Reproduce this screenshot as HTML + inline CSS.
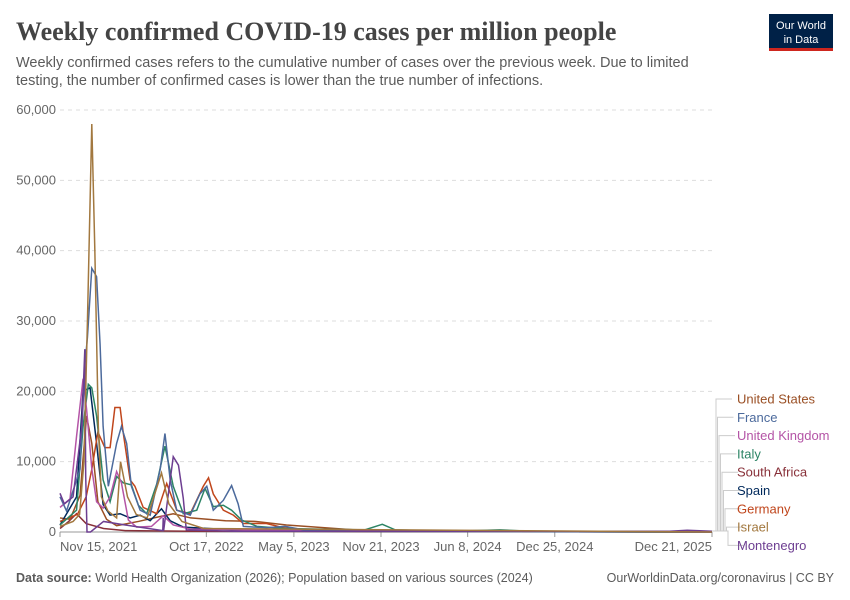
<!DOCTYPE html>
<html><head><meta charset="utf-8"><style>
body{margin:0;background:#fff;font-family:"Liberation Sans",sans-serif}
#wrap{position:relative;width:850px;height:600px;overflow:hidden}
</style></head><body>
<div id="wrap">
<svg id="svg" width="850" height="600" xmlns="http://www.w3.org/2000/svg">
<text x="16" y="40" font-family="Liberation Serif,serif" font-size="26" font-weight="bold" fill="#444">Weekly confirmed COVID-19 cases per million people</text>
<text x="16" y="67" font-size="14.5" fill="#5b5b5b">Weekly confirmed cases refers to the cumulative number of cases over the previous week. Due to limited</text>
<text x="16" y="85" font-size="14.5" fill="#5b5b5b">testing, the number of confirmed cases is lower than the true number of infections.</text>
<g>
<rect x="769" y="14" width="64" height="36" fill="#002147"/>
<rect x="769" y="48" width="64" height="3" fill="#ce261e"/>
<text x="801" y="29" font-size="11" fill="#fff" text-anchor="middle">Our World</text>
<text x="801" y="43" font-size="11" fill="#fff" text-anchor="middle">in Data</text>
</g>
<g id="grid"></g>
<g id="series"></g>
<g id="legend"></g>
<text x="16" y="582" font-size="12.5" fill="#5b5b5b"><tspan font-weight="bold">Data source:</tspan> World Health Organization (2026); Population based on various sources (2024)</text>
<text x="834" y="582" font-size="12.5" fill="#5b5b5b" text-anchor="end">OurWorldinData.org/coronavirus | CC BY</text>
</svg>
</div>
<script>
const yTicks=[0,10000,20000,30000,40000,50000,60000];
const xTickDays=[0,336,537,737,936,1136,1497];
const xTickLabels=["Nov 15, 2021","Oct 17, 2022","May 5, 2023","Nov 21, 2023","Jun 8, 2024","Dec 25, 2024","Dec 21, 2025"];
const names=["United States","France","United Kingdom","Italy","South Africa","Spain","Germany","Israel","Montenegro"];
const colors=["#9a4f24","#4c6a9c","#b454a6","#2c8465","#883039","#00295b","#c0461c","#a2783f","#6d3e91"];
const usDays=[0,23,46,61,73,87,107,130,180,230,260,300,380,450,520,700,1000,1497];
const usVals=[2000,1800,5200,16500,12600,4300,1800,900,1500,2200,2600,2000,1600,1500,1000,200,100,50];
const frDays=[0,15,46,57,63,73,84,92,99,111,130,141,153,164,184,207,230,241,253,268,299,321,337,352,375,394,409,421,474,517,560,700,1000,1497];
const frVals=[5000,3000,8900,23600,27700,37500,36300,26700,15000,6500,12600,15000,12600,6500,3100,2400,8900,14000,7400,3100,2400,5400,6500,3100,4500,6600,4000,800,600,800,300,100,50,0];
const ukDays=[0,23,38,53,61,73,84,99,115,130,141,157,176,210,237,260,300,450,1497];
const ukVals=[3500,4700,13600,21800,17500,9000,4300,3400,5000,8600,7000,1700,700,800,2300,1000,400,300,0];
const itDays=[0,38,53,65,73,84,99,115,130,145,164,180,199,222,241,260,283,314,333,352,375,394,417,452,513,700,740,770,900,1010,1100,1497];
const itVals=[1000,3100,15000,21000,20500,16500,7400,4300,7900,7000,6700,3800,2600,6800,12200,6500,2600,3100,6200,3600,3800,3100,1700,800,500,300,1100,300,100,300,50,0];
const zaDays=[0,20,38,60,100,150,300,1497];
const zaVals=[500,1500,2600,1200,500,200,100,0];
const esDays=[0,38,53,69,84,99,115,138,161,184,207,233,253,283,400,520,1497];
const esVals=[1000,5000,20000,20500,12600,3900,2400,2600,2000,2400,1600,3300,1600,700,300,100,0];
const deDays=[0,40,60,73,87,103,115,126,138,145,161,172,191,222,245,268,299,329,341,352,375,398,421,474,513,600,1497];
const deVals=[1500,2500,5000,8900,14200,12000,12000,17700,17700,14200,7400,6500,3500,2600,6900,3100,2600,6500,7700,5400,3100,2400,1200,1200,600,100,0];
const ilDays=[0,30,45,55,63,73,80,88,95,110,130,139,155,175,200,233,250,280,330,1497];
const ilVals=[800,1500,2500,10000,30000,58000,40000,15000,5000,3000,2000,10000,5000,2500,2000,8400,4000,1500,500,0];
const mnDays=[0,10,30,50,57,59,62,70,100,150,236,237,238,250,260,272,283,290,400,1400,1440,1497];
const mnVals=[5500,4000,5000,15000,26000,8000,0,0,1500,1000,200,2000,200,6000,10700,9500,4800,300,100,100,250,100];
const allDays=[usDays,frDays,ukDays,itDays,zaDays,esDays,deDays,ilDays,mnDays];
const allVals=[usVals,frVals,ukVals,itVals,zaVals,esVals,deVals,ilVals,mnVals];
const X0=60,X1=712,Y0=532,Y1=110,DMAX=1497,VMAX=60000;
const xs=d=>X0+(X1-X0)*d/DMAX, ys=v=>Y0-(Y0-Y1)*v/VMAX;
const NS="http://www.w3.org/2000/svg";
const grid=document.getElementById('grid');
yTicks.forEach(t=>{
 const l=document.createElementNS(NS,'line');
 l.setAttribute('x1',X0);l.setAttribute('x2',X1);l.setAttribute('y1',ys(t));l.setAttribute('y2',ys(t));
 l.setAttribute('stroke',t?'#ddd':'#999');if(t)l.setAttribute('stroke-dasharray','4,4');
 
 
 grid.appendChild(l);
 const tx=document.createElementNS(NS,'text');
 tx.setAttribute('x',56);tx.setAttribute('y',ys(t)+4);tx.setAttribute('text-anchor','end');
 tx.setAttribute('font-size','13');tx.setAttribute('fill','#666');tx.textContent=t.toLocaleString('en-US');
 
 
 grid.appendChild(tx);
});
xTickDays.forEach((d,i)=>{
 const x=xs(d);
 const tk=document.createElementNS(NS,'line');
 tk.setAttribute('x1',x);tk.setAttribute('x2',x);tk.setAttribute('y1',Y0);tk.setAttribute('y2',Y0+5);tk.setAttribute('stroke','#999');
 
 
 grid.appendChild(tk);
 const tx=document.createElementNS(NS,'text');
 tx.setAttribute('x',i==0?X0:x);tx.setAttribute('y',551);
 tx.setAttribute('text-anchor',i==0?'start':(i==xTickDays.length-1?'end':'middle'));
 tx.setAttribute('font-size','13');tx.setAttribute('fill','#666');tx.textContent=xTickLabels[i];
 
 
 grid.appendChild(tx);
});
const sg=document.getElementById('series');
const order=[4,0,5,6,3,2,1,8,7];
order.forEach(i=>{
 const p=document.createElementNS(NS,'polyline');
 p.setAttribute('points',allDays[i].map((d,k)=>xs(d)+','+ys(allVals[i][k])).join(' '));
 p.setAttribute('fill','none');p.setAttribute('stroke',colors[i]);p.setAttribute('stroke-width','1.5');
 
 
 sg.appendChild(p);
});
const lg=document.getElementById('legend');
names.forEach((n,i)=>{
 const ly=399+i*18.3;
 const bx=716+i*1.5;
 const path=document.createElementNS(NS,'path');
 path.setAttribute('d',`M${X1},${531} H${bx} V${ly} H${bx+16}`);
 path.setAttribute('fill','none');path.setAttribute('stroke','#ccc');path.setAttribute('stroke-width','1');
 
 
 lg.appendChild(path);
 const t=document.createElementNS(NS,'text');
 t.setAttribute('x',737);t.setAttribute('y',ly+4.5);t.setAttribute('font-size','13');t.setAttribute('fill',colors[i]);
 t.textContent=n;
 
 
 lg.appendChild(t);
});
</script>
</body></html>
